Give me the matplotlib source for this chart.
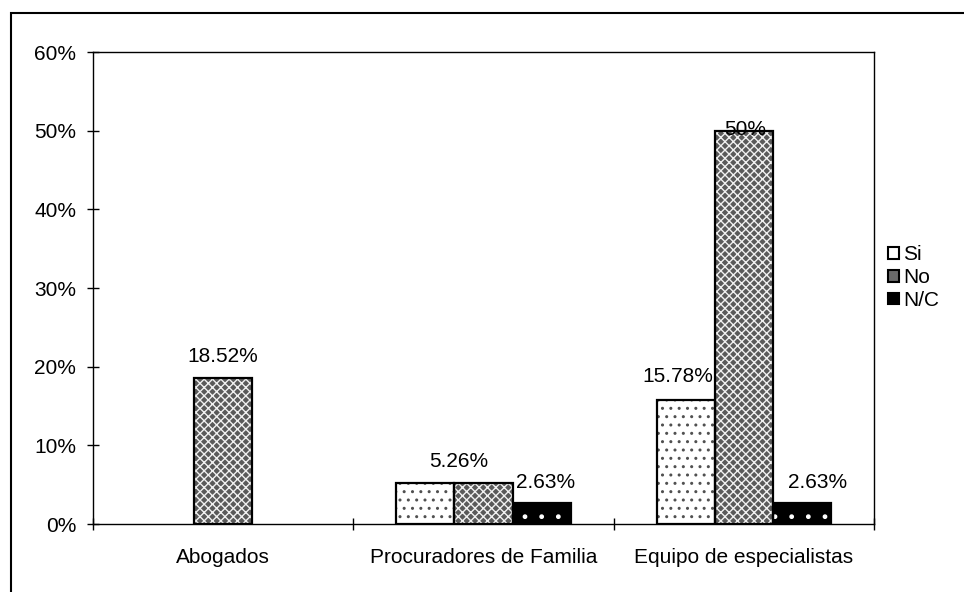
import matplotlib
matplotlib.use('Agg')
import matplotlib.pyplot as plt
from matplotlib.patches import Patch, Rectangle
import numpy as np

categories = ['Abogados', 'Procuradores de Familia', 'Equipo de especialistas']
series = ['Si', 'No', 'N/C']
si_values = [0.0, 5.26, 15.78]
no_values = [18.52, 5.26, 50.0]
nc_values = [0.0, 2.63, 2.63]
y_ticks = [0, 10, 20, 30, 40, 50, 60]

# labels: (category index, series index, text)
labels = [(0, 1, '18.52%'), (1, 0.5, '5.26%'), (1, 2, '2.63%'),
          (2, 0, '15.78%'), (2, 1, '50%'), (2, 2, '2.63%')]
label_offsets = [(0, 16), (3, 15), (3, 15), (-6, 17), (1, 1), (11, 15)]

plt.rcParams['font.family'] = ['Liberation Sans', 'DejaVu Sans']
plt.rcParams['hatch.linewidth'] = 1.0

styles = [
    dict(face='white', hatch='..', hatch_color='#505050'),
    dict(face='#5a5a5a', hatch='xxxx', hatch_color='#f0f0f0'),
    dict(face='black', hatch='.', hatch_color='white'),
]
FS = 15

fig = plt.figure(figsize=(9.64, 5.92), dpi=100)
ax = fig.add_axes([93 / 964, 68 / 592, 781 / 964, 472 / 592])

x = np.arange(len(categories))
width = 0.223
values = [si_values, no_values, nc_values]
for i, vals in enumerate(values):
    st = styles[i]
    pos = x + (i - 1) * width
    for p, v in zip(pos, vals):
        if v <= 0:
            continue
        ax.bar(p, v, width, color=st['face'], edgecolor=st['hatch_color'],
               hatch=st['hatch'], linewidth=0, zorder=2)
        ax.bar(p, v, width, fill=False, edgecolor='black', linewidth=1.6, zorder=3)

for (ci, si, txt), (dx, dy) in zip(labels, label_offsets):
    xp = x[ci] + (si - 1) * width
    if si == 0.5:
        top = max(si_values[ci], no_values[ci])
    else:
        top = values[int(si)][ci]
    ax.annotate(txt, (xp, top), xytext=(dx, dy), textcoords='offset points',
                ha='center', va='center', fontsize=FS, zorder=4)

ax.set_xlim(-0.5, 2.5)
ax.set_ylim(0, 60)
ax.set_yticks(y_ticks)
ax.set_yticklabels([f'{t}%' for t in y_ticks], fontsize=FS)
ax.set_xticks(x)
ax.set_xticklabels(categories, fontsize=FS)
ax.tick_params(axis='x', which='major', length=0, pad=17)
ax.set_xticks([-0.5, 0.5, 1.5, 2.5], minor=True)
ax.tick_params(axis='x', which='minor', length=8, direction='inout', width=1)
ax.tick_params(axis='y', length=8, direction='inout', width=1, pad=8)
for s in ax.spines.values():
    s.set_linewidth(1.0)
    s.set_color('black')

handles = [Patch(facecolor=c, edgecolor='black', linewidth=1.5)
           for c in ['white', '#6a6a6a', 'black']]
fig.legend(handles, series, loc='upper left', bbox_to_anchor=(880 / 964, 1 - 237 / 592),
           frameon=False, fontsize=FS, handlelength=0.5, handleheight=0.5,
           handletextpad=0.2, labelspacing=0.18, borderaxespad=0)

fig.patches.append(Rectangle((11 / 964, -0.1), 2, 1.1 - 13 / 592,
                             transform=fig.transFigure, fill=False,
                             edgecolor='black', linewidth=1.5))

fig.savefig('out.png', dpi=100)
